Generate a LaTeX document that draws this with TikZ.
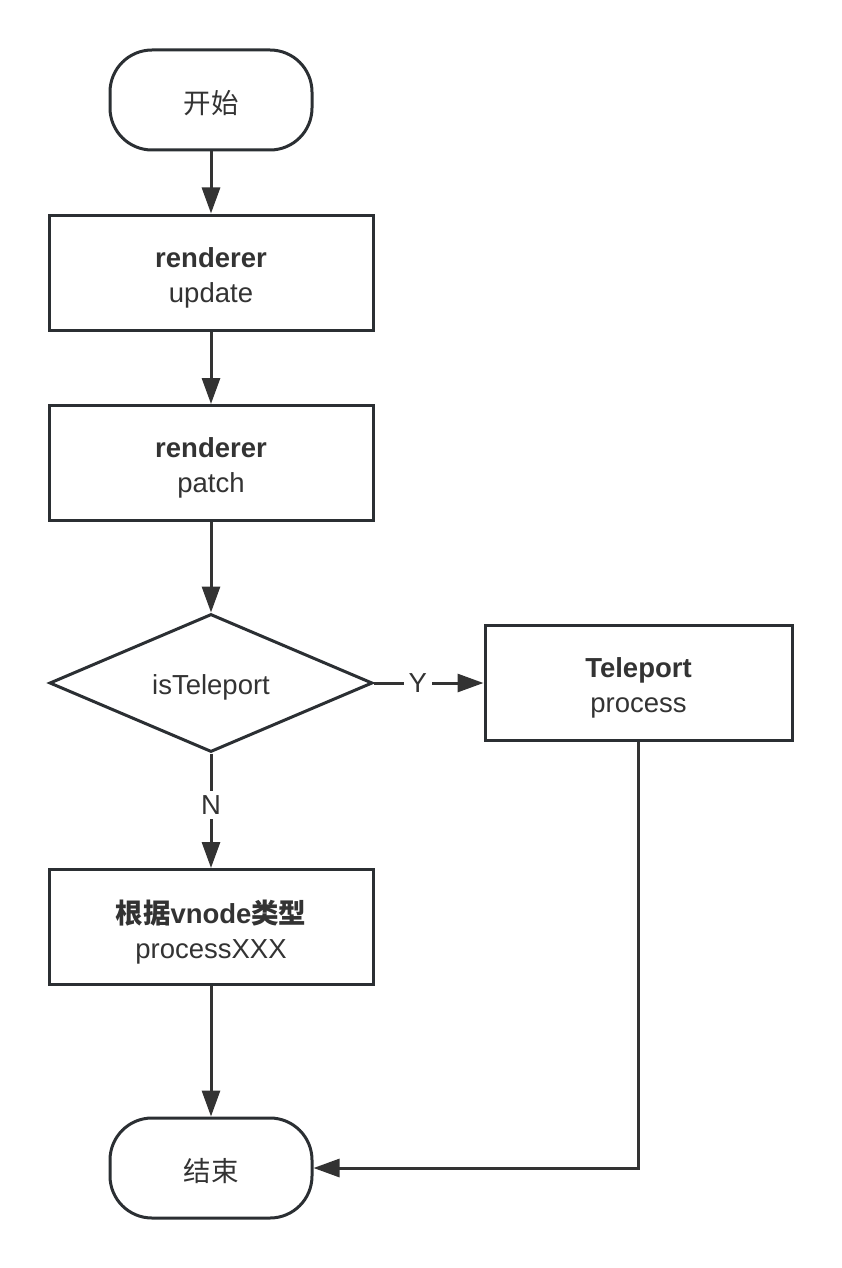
\documentclass[tikz,border=0pt]{standalone}
\usepackage{fontspec}
\setmainfont{Liberation Sans}
\newfontfamily\cjk{Noto Sans CJK SC}
\usetikzlibrary{arrows.meta,shapes.geometric}
\definecolor{edge}{HTML}{2B2F33}
\definecolor{arr}{HTML}{333333}
\tikzset{
  box/.style={draw=edge,line width=3pt,fill=white,minimum width=324pt,minimum height=115pt},
  term/.style={draw=edge,line width=3pt,rounded corners=42pt,minimum width=202pt,minimum height=100pt},
  dec/.style={draw=edge,line width=3pt,diamond,aspect=2.34,minimum width=323pt,minimum height=138pt,inner sep=0pt},
  txt/.style={align=center,font=\fontsize{27.5}{35}\selectfont,text=black!80,inner sep=0pt},
  conn/.style={draw=arr,line width=3pt,-{Triangle[length=26pt,width=18pt]}},
  lbl/.style={fill=white,font=\fontsize{27.5}{35}\selectfont,text=black!80,inner sep=5pt}
}
\begin{document}
\begin{tikzpicture}[x=1pt,y=-1pt]
\useasboundingbox (0,0) rectangle (842,1268);
\node[term] (start) at (211,100) {};
\node[txt,font=\fontsize{27.5}{35}\selectfont\cjk] (startt) at ([yshift=-3pt]start.center) {开始};
\node[box] (upd) at (211,272.5) {};
\node[txt] (updt) at ([yshift=-5pt]upd.center) {\textbf{renderer}\\update};
\node[box] (pat) at (211,463) {};
\node[txt] (patt) at ([yshift=-5pt]pat.center) {\textbf{renderer}\\patch};
\node[dec] (isT) at (211,683) {};
\node[txt] (isTt) at ([yshift=-4pt]isT.center) {isTeleport};
\node[box,minimum width=307pt] (tele) at (638.5,683) {};
\node[txt] (telet) at ([yshift=-5pt]tele.center) {\textbf{Teleport}\\process};
\node[box] (proc) at (211,927) {};
\node[txt] (proct) at ([yshift=-5pt]proc.center) {{\cjk\bfseries 根据}\textbf{vnode}{\cjk\bfseries 类型}\\processXXX};
\node[term] (end) at (211,1168) {};
\node[txt,font=\fontsize{27.5}{35}\selectfont\cjk] (endt) at ([yshift=-3pt]end.center) {结束};
\draw[conn] (start) -- (upd);
\draw[conn] (upd) -- (pat);
\draw[conn] (pat) -- (isT);
\draw[conn] (isT) -- node[lbl,pos=0.4] {Y} (tele);
\draw[conn] (isT) -- node[lbl,pos=0.45] {N} (proc);
\draw[conn] (proc) -- (end);
\draw[conn] (tele.south) |- (end.east);
\end{tikzpicture}
\end{document}
